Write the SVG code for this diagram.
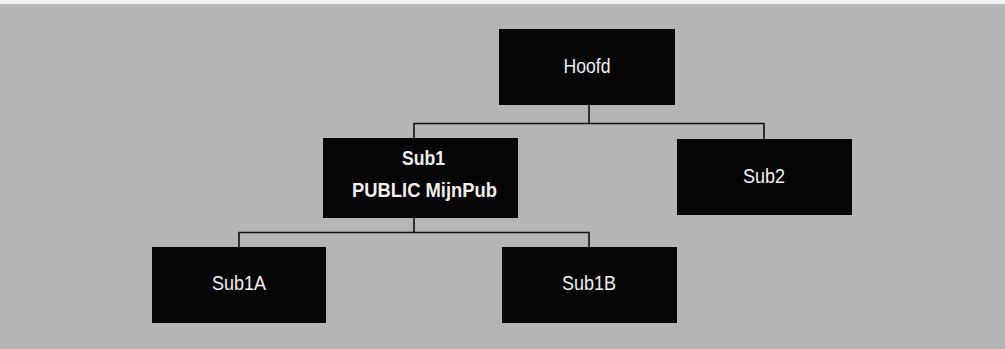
<svg xmlns="http://www.w3.org/2000/svg" width="1005" height="349" viewBox="0 0 1005 349">
<style>
.bg{fill:#b5b5b5}
.box{fill:#050505}
.t{font-family:"Liberation Sans",Arial,sans-serif;font-size:20px;fill:#f0f0f0;text-anchor:middle}
.b{font-weight:bold}
.c{fill:none;stroke:#111;stroke-width:1.6}
</style>
<rect x="0" y="0" width="1005" height="349" fill="#f4f4f4"/>
<rect class="bg" x="0" y="4" width="1005" height="345"/>
<g id="connectors">
<path class="c" d="M589 105V123.5M414 138V123.5H764V139"/>
<path class="c" d="M414 218V232.5M239 247V232.5H589V247"/>
</g>
<g id="hoofd">
<rect class="box" x="499" y="29" width="176" height="76"/>
<text class="t" x="587" y="73" textLength="47" lengthAdjust="spacingAndGlyphs">Hoofd</text>
</g>
<g id="sub1">
<rect class="box" x="323" y="138" width="195" height="80"/>
<text class="t b" x="423.5" y="165" textLength="43" lengthAdjust="spacingAndGlyphs">Sub1</text>
<text class="t b" x="424.5" y="197" textLength="145" lengthAdjust="spacingAndGlyphs">PUBLIC MijnPub</text>
</g>
<g id="sub2">
<rect class="box" x="677" y="139" width="175" height="76"/>
<text class="t" x="764" y="183" textLength="42" lengthAdjust="spacingAndGlyphs">Sub2</text>
</g>
<g id="sub1a">
<rect class="box" x="152" y="247" width="174" height="76"/>
<text class="t" x="239" y="290" textLength="54" lengthAdjust="spacingAndGlyphs">Sub1A</text>
</g>
<g id="sub1b">
<rect class="box" x="502" y="247" width="175" height="76"/>
<text class="t" x="589" y="290" textLength="54" lengthAdjust="spacingAndGlyphs">Sub1B</text>
</g>
</svg>
